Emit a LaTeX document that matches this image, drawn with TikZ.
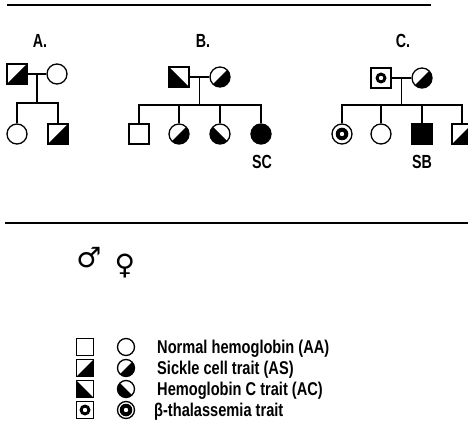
\documentclass[tikz,border=0pt]{standalone}
\usepackage{fontspec}
\setmainfont{Liberation Sans}
\newfontfamily\condb{Liberation Sans}[FakeStretch=0.75]
\newfontfamily\condl{Liberation Sans}[FakeStretch=0.79]
\newfontfamily\dejavu{DejaVu Sans}
\begin{document}
\begin{tikzpicture}[x=1pt,y=-1pt,
  sym/.style={draw, line width=1.3pt, inner sep=0pt, minimum size=20pt},
  msq/.style={sym, rectangle},
  fci/.style={sym, circle},
  lsq/.style={sym, rectangle, minimum size=16.5pt},
  lci/.style={sym, circle, minimum size=17pt},
  asf/.style={path picture={\fill (path picture bounding box.south west) -- (path picture bounding box.north east) -- (path picture bounding box.south east) -- cycle;}},
  acf/.style={path picture={\fill (path picture bounding box.north west) -- (path picture bounding box.south east) -- (path picture bounding box.south west) -- cycle;}},
  blk/.style={fill=black},
  thsq/.style={path picture={\fill (path picture bounding box.center) circle (5.5pt); \fill[white] (path picture bounding box.center) circle (2.2pt);}},
  thci/.style={path picture={\fill (path picture bounding box.center) circle (6.3pt); \fill[white] (path picture bounding box.center) circle (2.2pt);}},
  pline/.style={line width=1.3pt},
  lab/.style={font=\condb\bfseries\fontsize{19}{19}\selectfont, inner sep=0pt},
  legtext/.style={font=\condl\bfseries\fontsize{18.5}{19}\selectfont, inner sep=0pt, anchor=base west},
  rule/.style={line width=1.5pt}
]
\clip (0,0) rectangle (468,430);
\fill[white] (0,0) rectangle (468,430);

% rules
\coordinate (t1) at (7,5);
\coordinate (t2) at (431,5);
\draw[rule] (t1) -- (t2);
\coordinate (m1) at (5,223);
\coordinate (m2) at (468,223);
\draw[line width=1.1pt] (m1) -- (m2);

% labels
\node[lab] (labA) at (40,41) {A.};
\node[lab] (labB) at (203,41) {B.};
\node[lab] (labC) at (403,41) {C.};

% Family A
\node[msq, asf] (af) at (17,74) {};
\node[fci] (am) at (57,74) {};
\node[fci] (ac1) at (17,134) {};
\node[msq, asf] (ac2) at (58,134) {};
\coordinate (aM) at (37,74);
\coordinate (aS) at (37,103);
\draw[pline] (af) -- (am);
\draw[pline] (aM) -- (aS);
\draw[pline] (ac1.north) |- (aS) -| (ac2.north);

% Family B
\node[msq, acf] (bf) at (179,77) {};
\node[fci, asf] (bm) at (220,77) {};
\node[msq] (bc1) at (139,134) {};
\node[fci, asf] (bc2) at (179,134) {};
\node[fci, acf] (bc3) at (220,134) {};
\node[fci, blk] (bc4) at (261,134) {};
\coordinate (bM) at (199.5,77);
\coordinate (bS) at (199.5,105);
\draw[pline] (bf) -- (bm);
\draw[pline] (bM) -- (bS);
\draw[pline] (bc1.north) |- (bS) -| (bc4.north);
\draw[pline] (bc2.north) -- (bc2.north |- bS);
\draw[pline] (bc3.north) -- (bc3.north |- bS);
\node[lab] (sc) at (262,162) {SC};

% Family C
\node[msq, thsq] (cf) at (381,78) {};
\node[fci, asf] (cm) at (422,78) {};
\node[fci, thci] (cc1) at (342,134) {};
\node[fci] (cc2) at (381,134) {};
\node[msq, blk] (cc3) at (422,134) {};
\node[msq, asf] (cc4) at (462,134) {};
\coordinate (cM) at (401.5,78);
\coordinate (cS) at (401.5,105);
\draw[pline] (cf) -- (cm);
\draw[pline] (cM) -- (cS);
\draw[pline] (cc1.north) |- (cS) -| (cc4.north);
\draw[pline] (cc2.north) -- (cc2.north |- cS);
\draw[pline] (cc3.north) -- (cc3.north |- cS);
\node[lab] (sb) at (422,162) {SB};

% gender symbols
\node[font=\dejavu\fontsize{28}{28}\selectfont, inner sep=0pt] (male) at (89,258) {♂};
\node[font=\dejavu\fontsize{28}{28}\selectfont, inner sep=0pt] (female) at (125,266) {♀};

% legend
\node[lsq] (l1s) at (85,347) {};
\node[lci] (l1c) at (126,347) {};
\node[legtext] (l1t) at (157,353.5) {Normal hemoglobin (AA)};
\node[lsq, asf] (l2s) at (85,368) {};
\node[lci, asf] (l2c) at (126,368) {};
\node[legtext] (l2t) at (157,374.5) {Sickle cell trait (AS)};
\node[lsq, acf] (l3s) at (85,389) {};
\node[lci, acf] (l3c) at (126,389) {};
\node[legtext] (l3t) at (157,395.5) {Hemoglobin C trait (AC)};
\node[lsq, thsq] (l4s) at (85,410) {};
\node[lci, thci] (l4c) at (126,410) {};
\node[legtext] (l4t) at (154,416.5) {β-thalassemia trait};
\end{tikzpicture}
\end{document}
